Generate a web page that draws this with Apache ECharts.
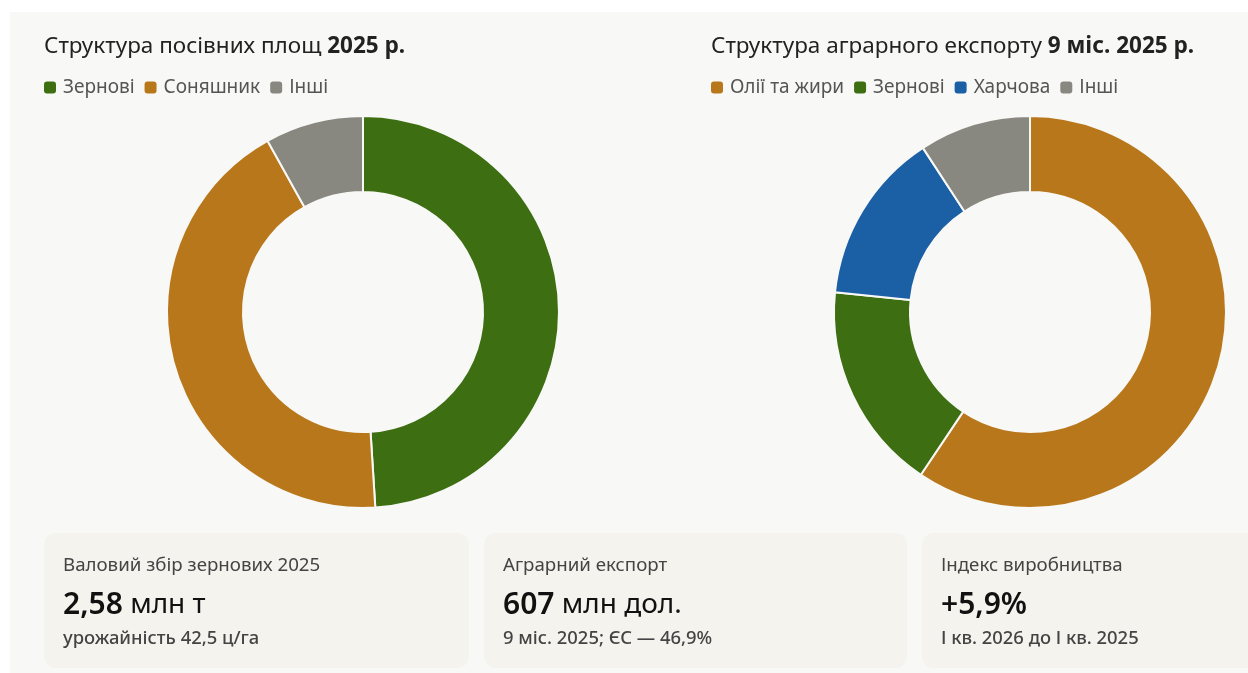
<!DOCTYPE html>
<html>
<head>
<meta charset="utf-8">
<script src="https://cdn.jsdelivr.net/npm/echarts@6/dist/echarts.min.js"></script>
<style>
html,body{margin:0;padding:0;background:#ffffff;}
#c{width:1248px;height:673px;}
</style>
</head>
<body>
<div id="c"></div>
<script>
// Data
const areaNames = ['Зернові', 'Соняшник', 'Інші'];
const areaValues = [49.0, 42.9, 8.1];
const exportNames = ['Олії та жири', 'Зернові', 'Харчова', 'Інші'];
const exportValues = [59.4, 17.2, 14.2, 9.2];
const cardLabels = ['Валовий збір зернових 2025', 'Аграрний експорт', 'Індекс виробництва'];
const cardValues = ['2,58', '607', '+5,9%'];
const cardUnits = ['млн т', 'млн дол.', ''];
const cardNotes = ['урожайність 42,5 ц/га', '9 міс. 2025; ЄС — 46,9%', 'І кв. 2026 до І кв. 2025'];

const colorMap = {
  'Зернові': '#3d6e12',
  'Соняшник': '#b9771b',
  'Олії та жири': '#b9771b',
  'Харчова': '#1b5fa5',
  'Інші': '#898880'
};
const FONT = '"Noto Sans", "Open Sans", sans-serif';
const BG = '#f8f8f6';

const chart = echarts.init(document.getElementById('c'), null, {renderer: 'canvas'});

function pieData(names, vals) {
  return names.map((n, i) => ({name: n, value: vals[i], itemStyle: {color: colorMap[n]}}));
}

const cardX = [44, 484, 922];
const cardW = [425, 423, 340];
const graphics = [
  {type: 'rect', left: 10, top: 12, shape: {width: 1238, height: 661}, style: {fill: BG}, z: -10}
];
cardX.forEach((x, i) => {
  graphics.push({type: 'rect', x: x, y: 533, shape: {width: cardW[i], height: 135, r: 12}, style: {fill: '#f4f3ee'}, z: -5});
  graphics.push({type: 'text', x: x + 19, y: 566, style: {text: cardLabels[i], font: '18.7px ' + FONT, fill: '#444444', textVerticalAlign: 'middle'}});
  graphics.push({type: 'text', x: x + 19, y: 605, style: {
    text: '{b|' + cardValues[i] + '}' + (cardUnits[i] ? '{n| ' + cardUnits[i] + '}' : ''),
    textVerticalAlign: 'middle',
    rich: {
      b: {font: '600 30px ' + FONT, fill: '#111111'},
      n: {font: '28px ' + FONT, fill: '#111111'}
    }
  }});
  graphics.push({type: 'text', x: x + 19, y: 639, style: {text: cardNotes[i], font: '500 18.4px ' + FONT, fill: '#444444', textVerticalAlign: 'middle'}});
});

function titleOpt(left, a, b) {
  return {
    left: left, top: 30,
    text: '{a|' + a + '}{b|' + b + '}',
    textStyle: {fontWeight: 'normal', rich: {
      a: {fontFamily: FONT, fontSize: 22.5, fontWeight: 'normal', color: '#222222'},
      b: {fontFamily: FONT, fontSize: 22.5, fontWeight: 'bold', color: '#222222'}
    }}
  };
}
function legendOpt(left, names) {
  return {
    left: left, top: 73, data: names, icon: 'roundRect',
    itemWidth: 12, itemHeight: 12, itemGap: 10, selectedMode: false,
    itemStyle: {borderWidth: 0},
    textStyle: {fontFamily: FONT, fontSize: 19, color: '#555555', padding: [0, 0, 0, 2]}
  };
}

const option = {
  backgroundColor: '#ffffff',
  animation: false,
  title: [
    titleOpt(39, 'Структура посівних площ ', '2025 р.'),
    titleOpt(706, 'Структура аграрного експорту ', '9 міс. 2025 р.')
  ],
  legend: [
    legendOpt(39, areaNames),
    legendOpt(706, exportNames)
  ],
  series: [
    {
      type: 'pie', center: [363, 312], radius: [120, 196], startAngle: 90, clockwise: true,
      label: {show: false}, labelLine: {show: false}, silent: true,
      itemStyle: {borderColor: BG, borderWidth: 2},
      data: pieData(areaNames, areaValues)
    },
    {
      type: 'pie', center: [1030, 312], radius: [120, 196], startAngle: 90, clockwise: true,
      label: {show: false}, labelLine: {show: false}, silent: true,
      itemStyle: {borderColor: BG, borderWidth: 2},
      data: pieData(exportNames, exportValues)
    }
  ],
  graphic: graphics
};
chart.setOption(option);
</script>
</body>
</html>
